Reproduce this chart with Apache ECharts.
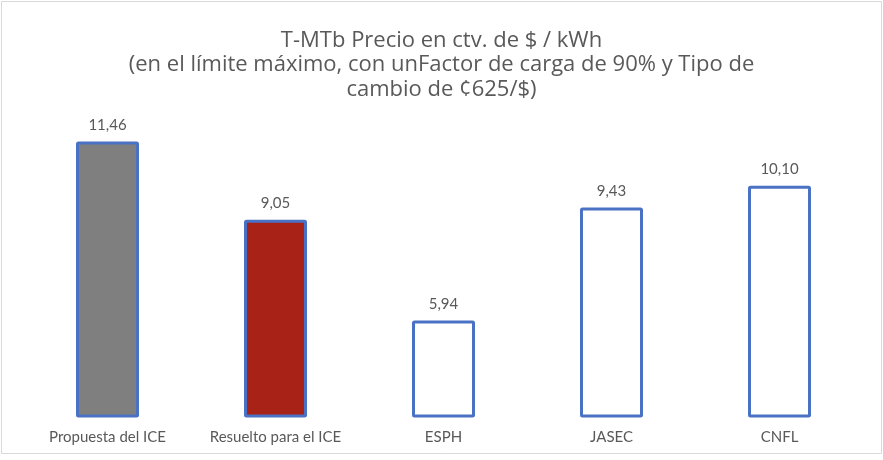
<!DOCTYPE html>
<html><head><meta charset="utf-8">
<script src="https://cdn.jsdelivr.net/npm/echarts@6/dist/echarts.min.js"></script>
<style>html,body{margin:0;padding:0;background:#fff}#c{width:883px;height:460px}</style>
</head><body><div id="c"></div>
<script>
const categories = ['Propuesta del ICE', 'Resuelto para el ICE', 'ESPH', 'JASEC', 'CNFL'];
const values = [11.46, 9.05, 5.94, 9.43, 10.10];
const titleLines = ['T-MTb Precio en ctv. de $ / kWh', '(en el límite máximo, con unFactor de carga de 90% y Tipo de', 'cambio de ¢625/$)'];

const fills = ['#7f7f7f', '#a82217', '#ffffff', '#ffffff', '#ffffff'];
const chart = echarts.init(document.getElementById('c'), null, {renderer: 'canvas'});
chart.setOption({
  animation: false,
  backgroundColor: '#fff',
  title: {
    text: titleLines.join('\n'), left: 'center', top: 23,
    textStyle: {fontFamily: 'Open Sans', fontSize: 22, fontWeight: 'normal', color: '#595959', lineHeight: 24.5}
  },
  graphic: [{type: 'rect', shape: {x: 1.5, y: 1.5, width: 880, height: 452}, style: {fill: 'none', stroke: '#d9d9d9', lineWidth: 1}}],
  grid: {left: 23.5, right: 19.5, top: 124, bottom: 44},
  xAxis: {
    type: 'category', data: categories,
    axisLine: {show: false}, axisTick: {show: false},
    axisLabel: {interval: 0, color: '#595959', fontFamily: 'Lato', fontSize: 15, margin: 14}
  },
  yAxis: {type: 'value', min: 3, max: 12, show: false, splitLine: {show: false}},
  series: [{
    type: 'bar', barWidth: 63,
    data: values.map((v, i) => ({value: v, itemStyle: {color: fills[i]}})),
    itemStyle: {borderColor: '#4a72c4', borderWidth: 3, borderRadius: 1},
    label: {show: true, position: 'top', distance: 9, color: '#595959', fontFamily: 'Lato', fontSize: 15,
      formatter: p => p.value.toFixed(2).replace('.', ',')}
  }]
});
</script></body></html>
